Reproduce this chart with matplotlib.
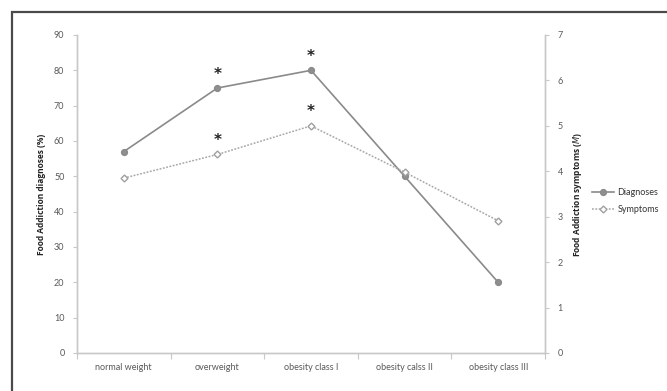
import matplotlib
matplotlib.use("Agg")
import matplotlib.pyplot as plt
from matplotlib.patches import Rectangle

categories = ["normal weight", "overweight", "obesity class I", "obesity calss II", "obesity class III"]
diagnoses = [57, 75, 80, 50, 20]
symptoms = [3.85, 4.37, 5.0, 3.98, 2.91]
diag_sig = [False, True, True, False, False]
symp_sig = [False, True, True, False, False]
left_ticks = [0, 10, 20, 30, 40, 50, 60, 70, 80, 90]
right_ticks = [0, 1, 2, 3, 4, 5, 6, 7]

plt.rcParams['font.family'] = ['Lato', 'DejaVu Sans']

W, H = 667, 391
fig = plt.figure(figsize=(W / 100, H / 100), dpi=100)
ax = fig.add_axes([77 / W, 1 - 353 / H, (545 - 77) / W, (353 - 35) / H])
ax2 = ax.twinx()

# outer frame
fig.patches.append(Rectangle((12 / W, -0.05), 1.2, 1 - 12 / H + 0.05, transform=fig.transFigure,
                             fill=False, edgecolor='#4a4a4a', linewidth=1.6, clip_on=False))

x = list(range(len(categories)))
axis_col = '#c8c8c8'
tick_col = '#595959'

ax.plot(x, diagnoses, color='#8a8a8a', linewidth=1.2, marker='o', markersize=4.2,
        markerfacecolor='#8f8f8f', markeredgecolor='#8a8a8a', label='Diagnoses', zorder=3)
ax2.plot(x, symptoms, color='#a8a8a8', linewidth=1.1, linestyle=(0, (1.2, 1.0)), marker='D',
         markersize=3.5, markerfacecolor='white', markeredgecolor='#a0a0a0', label='Symptoms', zorder=3)

for i, s in enumerate(diag_sig):
    if s:
        ax.annotate('*', (x[i], diagnoses[i]), xytext=(0, 10), textcoords='offset points',
                    ha='center', va='center', fontsize=11, fontweight='bold', color='#222222',
                    family='DejaVu Sans')
for i, s in enumerate(symp_sig):
    if s:
        ax2.annotate('*', (x[i], symptoms[i]), xytext=(0, 10), textcoords='offset points',
                     ha='center', va='center', fontsize=11, fontweight='bold', color='#222222',
                     family='DejaVu Sans')

ax.set_xlim(-0.5, len(categories) - 0.5)
ax.set_ylim(0, 90)
ax2.set_ylim(0, 7)
ax.set_yticks(left_ticks)
ax2.set_yticks(right_ticks)

ax.set_xticks([i - 0.5 for i in range(len(categories) + 1)])
ax.set_xticklabels([])
ax.set_xticks(x, minor=True)
ax.set_xticklabels(categories, minor=True, fontsize=6.5, color=tick_col)
ax.tick_params(axis='x', which='minor', length=0, pad=7)
ax.tick_params(axis='x', which='major', length=4, color=axis_col, direction='out')
ax.tick_params(axis='y', length=3, color=axis_col, labelsize=6.5, labelcolor=tick_col, pad=6)
ax2.tick_params(axis='y', length=3, color=axis_col, labelsize=6.5, labelcolor=tick_col, pad=6)

for a in (ax, ax2):
    a.spines['top'].set_visible(False)
    for sp in ('left', 'right', 'bottom'):
        a.spines[sp].set_color(axis_col)
        a.spines[sp].set_linewidth(1.0)
    a.set_facecolor('none')

ax.set_ylabel('Food Addiction diagnoses (%)', fontsize=6, fontweight='bold', color='#222222',
              labelpad=6, family=['Open Sans', 'DejaVu Sans'])
ax2.set_ylabel('Food Addiction symptoms ($\\mathbf{\\it{M}}$)', fontsize=6, fontweight='bold', color='#222222',
               labelpad=6, family=['Open Sans', 'DejaVu Sans'])

h1, l1 = ax.get_legend_handles_labels()
h2, l2 = ax2.get_legend_handles_labels()
fig.legend(h1 + h2, l1 + l2, loc='center left', bbox_to_anchor=(584 / W, 1 - 201 / H),
           frameon=False, fontsize=6.5, handlelength=2.4, handletextpad=0.4, labelspacing=0.9,
           labelcolor='#333333')

fig.savefig('out.png', dpi=100)
